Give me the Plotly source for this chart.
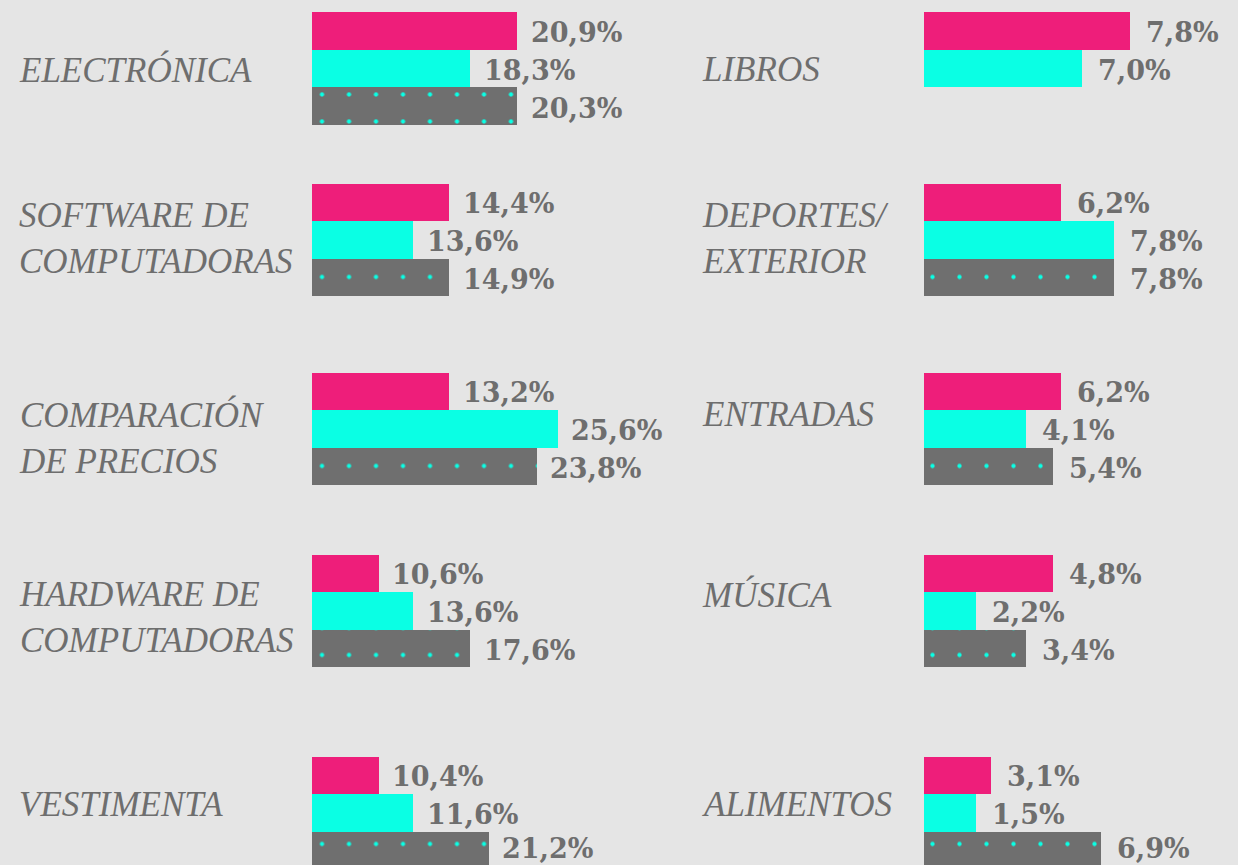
import plotly.graph_objects as go

W, H = 1238, 865

# ---------------- data ----------------
categories_left = ["ELECTRÓNICA", "SOFTWARE DE<br>COMPUTADORAS", "COMPARACIÓN<br>DE PRECIOS",
                   "HARDWARE DE<br>COMPUTADORAS", "VESTIMENTA"]
categories_right = ["LIBROS", "DEPORTES/<br>EXTERIOR", "ENTRADAS", "MÚSICA", "ALIMENTOS"]
series = ["Serie 1", "Serie 2", "Serie 3"]

# printed values (%)
left_s1 = [20.9, 14.4, 13.2, 10.6, 10.4]
left_s2 = [18.3, 13.6, 25.6, 13.6, 11.6]
left_s3 = [20.3, 14.9, 23.8, 17.6, 21.2]
right_s1 = [7.8, 6.2, 6.2, 4.8, 3.1]
right_s2 = [7.0, 7.8, 4.1, 2.2, 1.5]
right_s3 = [None, 7.8, 5.4, 3.4, 6.9]

# bar lengths as drawn in the picture (column scale)
left_bar_s1 = [21.4, 14.3, 14.3, 7.0, 7.0]
left_bar_s2 = [16.5, 10.6, 25.6, 10.6, 10.6]
left_bar_s3 = [21.4, 14.3, 23.4, 16.5, 18.4]
right_bar_s1 = [8.0, 5.33, 5.33, 5.0, 2.6]
right_bar_s2 = [6.15, 7.39, 3.97, 2.0, 2.0]
right_bar_s3 = [None, 7.39, 5.0, 3.97, 6.89]

# ---------------- style / layout ----------------
BG = "#e5e5e5"
PINK = "#ee1e7a"
CYAN = "#0affe4"
GRAY = "#6f6f6f"
TXT = "#6e6e6e"
SERIES_STYLE = [
    dict(color=PINK, line=dict(width=0)),
    dict(color=CYAN, line=dict(width=0)),
    dict(color=GRAY, line=dict(width=0),
         pattern=dict(shape=".", fillmode="overlay", bgcolor=GRAY, fgcolor=CYAN,
                      fgopacity=1, size=27, solidity=0.02)),
]

ROW_TOP = [12, 183, 372, 554, 756]
GROUP_H = 113.0
SLOT = GROUP_H / 3
LABEL_CAP_TOP = [57, 203, 402, 582, 792]
DOT = 27
VAL_SIZE = 27
VAL_HALF_BOX = 17  # half height of a value-label box (px)

columns = [
    dict(cats=categories_left, vals=[left_s1, left_s2, left_s3],
         bars=[left_bar_s1, left_bar_s2, left_bar_s3],
         base=311, scale=9.62, x0=308.5, x1=700, label_x=17, gap=12),
    dict(cats=categories_right, vals=[right_s1, right_s2, right_s3],
         bars=[right_bar_s1, right_bar_s2, right_bar_s3],
         base=924, scale=25.75, x0=919, x1=1238, label_x=700, gap=14),
]


def fmt(v):
    return None if v is None else f"{v:.1f}".replace(".", ",") + "%"


fig = go.Figure()
annotations = []
layout_axes = {}
n = 0
for col in columns:
    for r, cat in enumerate(col["cats"]):
        n += 1
        xs = "x" if n == 1 else f"x{n}"
        ys = "y" if n == 1 else f"y{n}"
        xk = "xaxis" if n == 1 else f"xaxis{n}"
        yk = "yaxis" if n == 1 else f"yaxis{n}"

        lengths = [col["bars"][s][r] for s in range(3)]
        values = [col["vals"][s][r] for s in range(3)]

        for s in range(3):
            if lengths[s] is None:
                continue
            fig.add_trace(go.Bar(
                x=[lengths[s]], y=[series[s]], orientation="h", xaxis=xs, yaxis=ys,
                name=series[s], marker=SERIES_STYLE[s], width=1,
                hoverinfo="skip", showlegend=False,
            ))

        # vertical domain (aligned so the dot grid matches the picture)
        top = ROW_TOP[r]
        d = (top - 20.5) % DOT
        if top - d < 0:
            d = top
        bottom = top + GROUP_H
        ov = max(0.0, bottom - H)
        bottom = min(bottom, H)
        dom_top = top - d
        layout_axes[yk] = dict(
            domain=[1 - bottom / H, 1 - dom_top / H], type="category",
            categoryarray=series, categoryorder="array",
            range=[2.5 - ov / SLOT, -0.5 - d / SLOT],
            visible=False, fixedrange=True, anchor=xs,
        )
        layout_axes[xk] = dict(
            domain=[col["x0"] / W, col["x1"] / W],
            range=[(col["x0"] - col["base"]) / col["scale"], (col["x1"] - col["base"]) / col["scale"]],
            visible=False, fixedrange=True, anchor=ys,
        )

        for s in range(3):
            if lengths[s] is None:
                continue
            slot_center = top + (s + 0.5) * SLOT
            yshift = max(-2.0, slot_center - (H - VAL_HALF_BOX))
            annotations.append(dict(
                x=lengths[s], y=series[s], xref=xs, yref=ys, text=fmt(values[s]),
                showarrow=False, xanchor="left", yanchor="middle",
                xshift=col["gap"], yshift=yshift,
                font=dict(family="DejaVu Serif", size=VAL_SIZE, color=TXT, weight="bold"),
            ))

        annotations.append(dict(
            x=col["label_x"] / W, y=1 - (LABEL_CAP_TOP[r] - 9) / H,
            xref="paper", yref="paper", text=cat, showarrow=False,
            xanchor="left", yanchor="top", align="left",
            font=dict(family="Liberation Serif", size=35, color=TXT, style="italic"),
        ))

fig.update_layout(
    width=W, height=H, margin=dict(l=0, r=0, t=0, b=0),
    paper_bgcolor=BG, plot_bgcolor=BG, barmode="overlay", bargap=0, showlegend=False,
    annotations=annotations, **layout_axes,
)

fig.write_html(
    "out.html",
    config={"displayModeBar": False},
    post_script="document.body.style.margin='0';document.body.style.background='" + BG + "';",
)
